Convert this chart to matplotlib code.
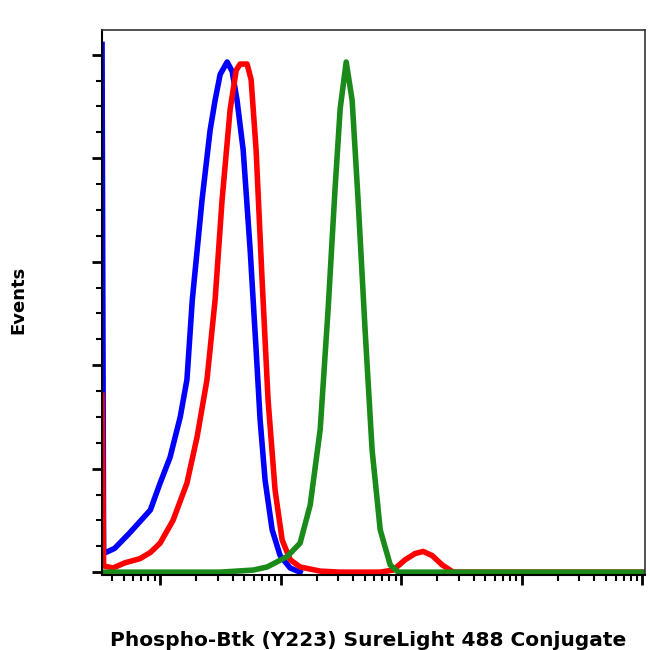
import numpy as np
import matplotlib
matplotlib.use('Agg')
import matplotlib.pyplot as plt
from matplotlib.ticker import MultipleLocator, LogLocator, NullFormatter

# fluorescence intensity (log axis) and event counts
blue_x = [3.3, 3.4, 4.2, 5.6, 8.3, 10, 12.1, 14.7, 16.7, 18.5, 22.3, 26, 28.6, 31.5, 36,
          39.6, 43.5, 48.9, 55.9, 62.6, 67.6, 74.3, 85, 99, 120, 145]
blue_y = [510, 18, 23, 38, 60, 86, 111, 150, 186, 263, 360, 427, 456, 481, 493,
          484, 456, 408, 311, 215, 147, 89, 41, 16, 4, 0]

red_x = [3.3, 3.4, 4.07, 5.1, 6.8, 8.3, 10, 12.8, 16.7, 20.3, 24.5, 28.6, 32.7, 38.1, 42.8,
         46.1, 52.7, 56.9, 62.6, 70.2, 78.7, 90, 103, 120, 145, 213, 312, 670, 859, 1080,
         1306, 1523, 1808, 2188, 2702, 100000]
red_y = [171, 6, 4, 9, 13, 19, 28, 50, 86, 131, 186, 263, 360, 447, 485,
         491, 491, 476, 408, 282, 166, 79, 31, 12, 5, 1, 0, 0, 2, 12,
         18, 20, 16, 7, 0, 0]

green_x = [3.3, 31.5, 59.1, 77.3, 113, 145, 176, 213, 248, 283, 312, 350, 392, 439, 502,
           574, 670, 811, 944, 100000]
green_y = [0, 0, 2, 5, 15, 28, 65, 138, 255, 371, 448, 493, 456, 360, 234,
           118, 41, 7, 0, 0]

fig = plt.figure(figsize=(6.5, 6.5), dpi=100)
ax = fig.add_axes([0.157, 0.115, 0.835, 0.839])

ax.plot(blue_x, blue_y, color='#0000ff', lw=4, solid_joinstyle='round')
ax.plot(red_x, red_y, color='#ff0000', lw=4, solid_joinstyle='round')
ax.plot(green_x, green_y, color='#1a8a1a', lw=4, solid_joinstyle='round')

ax.set_xscale('log')
ax.set_xlim(3.3, 1.05e5)
ax.set_ylim(-3, 524)

ax.yaxis.set_major_locator(MultipleLocator(100))
ax.yaxis.set_minor_locator(MultipleLocator(25))
ax.xaxis.set_major_locator(LogLocator(base=10, numticks=10))
ax.xaxis.set_minor_locator(LogLocator(base=10, subs=np.arange(2, 10), numticks=20))
ax.xaxis.set_major_formatter(NullFormatter())
ax.xaxis.set_minor_formatter(NullFormatter())
ax.yaxis.set_major_formatter(NullFormatter())

ax.tick_params(which='major', direction='out', length=7, width=2, color='black')
ax.tick_params(which='minor', direction='out', length=4, width=1.5, color='black')

for s in ['top', 'right']:
    ax.spines[s].set_color('#333333')
    ax.spines[s].set_linewidth(1.2)
for s in ['left', 'bottom']:
    ax.spines[s].set_linewidth(1.5)

fig.text(0.567, 0.015, 'Phospho-Btk (Y223) SureLight 488 Conjugate', ha='center', va='center',
         fontsize=14.5, fontweight='bold')
fig.text(0.028, 0.538, 'Events', rotation=90, ha='center', va='center',
         fontsize=13, fontweight='bold')

fig.savefig('out.png', dpi=100)
